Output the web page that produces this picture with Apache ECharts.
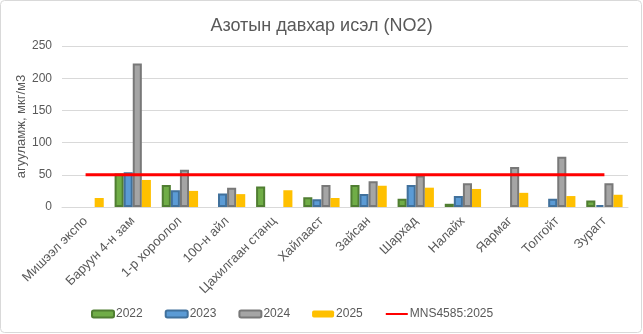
<!DOCTYPE html>
<html><head><meta charset="utf-8">
<script src="https://cdn.jsdelivr.net/npm/echarts@6/dist/echarts.min.js"></script>
<style>html,body{margin:0;padding:0;background:#fff}#c{width:643px;height:334px}</style>
</head><body><div id="c"></div>
<script>
const categories = ['Мишээл экспо','Баруун 4-н зам','1-р хороолол','100-н айл','Цахилгаан станц','Хайлааст','Зайсан','Шархад','Налайх','Яармаг','Толгойт','Зурагт'];
const y2022 = [null,52,34,null,32,15,34,13,5,null,null,10];
const y2023 = [null,54,26,21,null,12,20,34,17,null,13,3];
const y2024 = [null,223,58,30,null,34,40,49,37,62,78,37];
const y2025 = [14,42,25,20,26,14,33,30,28,22,17,19];
const standard = [50,50,50,50,50,50,50,50,50,50,50,50];
const yTicks = [0,50,100,150,200,250];

const FONT = 'Liberation Sans';
const TXT = '#595959';
const chart = echarts.init(document.getElementById('c'));
function bar(name, data, fill, border) {
  return {
    name, type: 'bar', data,
    barGap: '0%', barCategoryGap: '23%',
    itemStyle: { color: fill, borderColor: border, borderWidth: border ? 2 : 0 },
    emphasis: { disabled: true }
  };
}
chart.setOption({
  animation: false,
  textStyle: { fontFamily: FONT },
  graphic: [{ type: 'rect', shape: { x: 0.5, y: 0.5, width: 641, height: 332, r: 4 },
    style: { fill: 'none', stroke: '#D9D9D9', lineWidth: 1 }, silent: true }],
  title: { text: 'Азотын давхар исэл (NO2)', left: 'center', top: 12,
    textStyle: { fontFamily: FONT, fontSize: 18, fontWeight: 'normal', color: TXT } },
  grid: { left: 62, right: 15, top: 46, bottom: 127, containLabel: false },
  legend: {
    bottom: 9, left: 86, itemWidth: 22, itemHeight: 7, itemGap: 22,
    textStyle: { fontFamily: FONT, fontSize: 12, color: TXT, padding: [0, 0, 0, -3] },
    data: ['2022','2023','2024','2025',{ name: 'MNS4585:2025', itemStyle: { opacity: 0 } }]
  },
  xAxis: {
    type: 'category', data: categories,
    axisLine: { lineStyle: { color: '#D9D9D9' } },
    axisTick: { show: false },
    axisLabel: { rotate: 45, interval: 0, fontFamily: FONT, fontSize: 13, color: TXT, margin: 12 }
  },
  yAxis: {
    type: 'value', min: yTicks[0], max: yTicks[yTicks.length-1], interval: 50,
    name: 'агууламж, мкг/м3', nameLocation: 'middle', nameGap: 34, nameMoveOverlap: false,
    nameTextStyle: { fontFamily: FONT, fontSize: 13, color: TXT },
    axisLine: { show: false }, axisTick: { show: false },
    axisLabel: { fontFamily: FONT, fontSize: 12, color: TXT, margin: 10 },
    splitLine: { lineStyle: { color: '#D9D9D9' } }
  },
  series: [
    bar('2022', y2022, '#70AD47', '#507E32'),
    bar('2023', y2023, '#5B9BD5', '#41719C'),
    bar('2024', y2024, '#A5A5A5', '#787878'),
    bar('2025', y2025, '#FFC000', null),
    { name: 'MNS4585:2025', type: 'line', data: standard, symbol: 'none',
      lineStyle: { color: '#FF0000', width: 3 }, itemStyle: { color: '#FF0000' }, z: 5,
      emphasis: { disabled: true } }
  ]
});
</script></body></html>
